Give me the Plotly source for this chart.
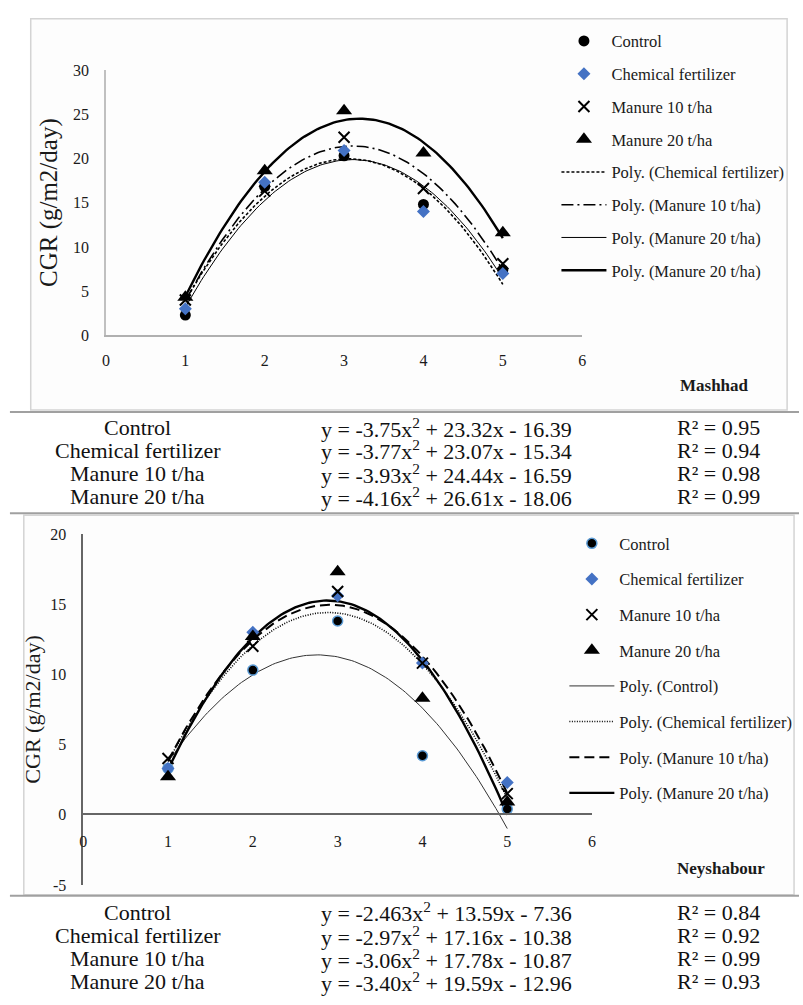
import numpy as np
import plotly.graph_objects as go

W, H = 803, 1005

# ---------------- data ----------------
days = [1, 2, 3, 4, 5]
x_ticks = [0, 1, 2, 3, 4, 5, 6]
treatments = ["Control", "Chemical fertilizer", "Manure 10 t/ha", "Manure 20 t/ha"]

# Mashhad (top panel)
mashhad_control = [2.3, 16.8, 20.3, 14.8, 7.4]
mashhad_chemical = [3.0, 17.3, 20.9, 14.0, 7.0]
mashhad_manure10 = [4.0, 16.3, 22.4, 16.6, 8.1]
mashhad_manure20 = [4.3, 18.6, 25.4, 20.6, 11.6]
mashhad_a = ["-3.75", "-3.77", "-3.93", "-4.16"]
mashhad_b = ["23.32", "23.07", "24.44", "26.61"]
mashhad_c = ["16.39", "15.34", "16.59", "18.06"]
mashhad_r2 = ["0.95", "0.94", "0.98", "0.99"]
mashhad_yticks = [0, 5, 10, 15, 20, 25, 30]
mashhad_yticktext = ["0", "5", "10", "15", "20", "25", "30"]

# Neyshabour (bottom panel)
ney_control = [3.3, 10.3, 13.8, 4.2, 0.4]
ney_chemical = [3.3, 13.0, 15.6, 10.8, 2.3]
ney_manure10 = [4.0, 12.0, 15.9, 10.8, 1.5]
ney_manure20 = [2.7, 12.7, 17.3, 8.3, 0.9]
ney_a = ["-2.463", "-2.97", "-3.06", "-3.40"]
ney_b = ["13.59", "17.16", "17.78", "19.59"]
ney_c = ["7.36", "10.38", "10.87", "12.96"]
ney_r2 = ["0.84", "0.92", "0.99", "0.93"]
ney_yticks = [-5, 0, 5, 10, 15, 20]
ney_yticktext = ["-5", "0", "5", "10", "15", "20"]

mashhad_line_labels = ["Poly. (Manure 20 t/ha)", "Poly. (Chemical fertilizer)",
                       "Poly. (Manure 10 t/ha)", "Poly. (Manure 20 t/ha)"]
ney_line_labels = ["Poly. (Control)", "Poly. (Chemical fertilizer)",
                   "Poly. (Manure 10 t/ha)", "Poly. (Manure 20 t/ha)"]

# ---------------- helpers ----------------
FONT = "Liberation Serif, Times New Roman, serif"
BLUE = "#4472C4"
TXT = "#1a1a1a"


def px(x):
    return x / W


def py(y):
    return 1 - y / H


def poly_curve(a, b, c):
    xs = np.linspace(1, 5, 121)
    return xs, float(a) * xs ** 2 + float(b) * xs - float(c)


fig = go.Figure()

marker_styles = [
    dict(symbol="circle", size=11, color="black"),
    dict(symbol="diamond", size=10, color=BLUE),
    dict(symbol="x-thin", size=11, color="black", line=dict(width=2, color="black")),
    dict(symbol="triangle-up", size=14, color="black"),
]

# ---- top panel trend lines (drawn first, behind markers)
top_line_styles = [
    dict(color="black", width=1, dash="solid"),               # control (labelled Manure 20)
    dict(color="black", width=1.6, dash="3px,2px"),           # chemical
    dict(color="black", width=1.6, dash="12px,4px,2px,4px"),  # manure 10
    dict(color="black", width=2.4, dash="solid"),             # manure 20
]
top_line_rank = [7, 5, 6, 8]
for i in range(4):
    xs, ys = poly_curve(mashhad_a[i], mashhad_b[i], mashhad_c[i])
    fig.add_trace(go.Scatter(
        x=xs, y=ys, mode="lines", line=top_line_styles[i],
        name=mashhad_line_labels[i], xaxis="x", yaxis="y",
        legend="legend", legendgroup=f"t{i}l", legendrank=top_line_rank[i],
        hoverinfo="skip"))

top_series = [mashhad_control, mashhad_chemical, mashhad_manure10, mashhad_manure20]
for i in range(4):
    fig.add_trace(go.Scatter(
        x=days, y=top_series[i], mode="markers", marker=marker_styles[i],
        name=treatments[i], xaxis="x", yaxis="y",
        legend="legend", legendgroup=f"t{i}m", legendrank=i + 1))

# ---- bottom panel trend lines
bot_line_styles = [
    dict(color="#333333", width=1, dash="solid"),
    dict(color="black", width=1.6, dash="1px,1.5px"),
    dict(color="black", width=2, dash="10px,5px"),
    dict(color="black", width=2.4, dash="solid"),
]
for i in range(4):
    xs, ys = poly_curve(ney_a[i], ney_b[i], ney_c[i])
    fig.add_trace(go.Scatter(
        x=xs, y=ys, mode="lines", line=bot_line_styles[i],
        name=ney_line_labels[i], xaxis="x2", yaxis="y2",
        legend="legend2", legendgroup=f"b{i}l", legendrank=5 + i,
        hoverinfo="skip"))

bot_marker_styles = [
    dict(symbol="circle", size=10, color="black", line=dict(width=1.5, color="#5B9BD5")),
    dict(symbol="diamond", size=10, color=BLUE),
    dict(symbol="x-thin", size=11, color="black", line=dict(width=2, color="black")),
    dict(symbol="triangle-up", size=14, color="black"),
]
bot_series = [ney_control, ney_chemical, ney_manure10, ney_manure20]
for i in range(4):
    fig.add_trace(go.Scatter(
        x=days, y=bot_series[i], mode="markers", marker=bot_marker_styles[i],
        name=treatments[i], xaxis="x2", yaxis="y2",
        legend="legend2", legendgroup=f"b{i}m", legendrank=i + 1))

tickfont = dict(family=FONT, size=16, color=TXT)

# ---------------- axes ----------------
fig.update_layout(
    xaxis=dict(domain=[px(103), px(584)], range=[0, 6], tickvals=x_ticks,
               showgrid=False, zeroline=False, showline=True, linecolor="#b0b0b0",
               linewidth=1.5, ticks="", tickfont=tickfont, ticklabelstandoff=10,
               anchor="y", fixedrange=True),
    yaxis=dict(domain=[py(333), py(63)], range=[0, 30], tickvals=mashhad_yticks,
               ticktext=mashhad_yticktext,
               showgrid=False, zeroline=False, showline=True, linecolor="#c0c0c0",
               linewidth=1.5, ticks="", tickfont=tickfont, ticklabelstandoff=12,
               anchor="x",
               title=dict(text="CGR (g/m2/day)", font=dict(family=FONT, size=25, color=TXT),
                          standoff=8)),
    xaxis2=dict(domain=[px(80), px(594)], range=[0, 6], tickvals=x_ticks,
                showgrid=False, zeroline=False, showline=True, linecolor="#666666",
                linewidth=1.5, ticks="", tickfont=tickfont, ticklabelstandoff=13,
                anchor="free", position=py(820)),
    yaxis2=dict(domain=[py(892), py(535)], range=[-5, 20], tickvals=ney_yticks,
                ticktext=ney_yticktext,
                showgrid=False, zeroline=False, showline=True, linecolor="#666666",
                linewidth=1.5, ticks="", tickfont=tickfont, ticklabelstandoff=12,
                anchor="x2",
                title=dict(text="CGR (g/m2/day)", font=dict(family=FONT, size=22, color=TXT),
                           standoff=4)),
)

legend_common = dict(
    font=dict(family=FONT, size=16.5, color=TXT),
    bgcolor="rgba(0,0,0,0)", borderwidth=0, itemwidth=45,
    xanchor="left", yanchor="top", traceorder="grouped",
    itemclick=False, itemdoubleclick=False,
)
fig.update_layout(
    legend=dict(x=px(558), y=py(16), tracegroupgap=8.3, **legend_common),
    legend2=dict(x=px(566), y=py(527), tracegroupgap=11.2, **legend_common),
)

# ---------------- frames, rules ----------------
shapes = [
    dict(type="rect", xref="paper", yref="paper", x0=px(27), x1=px(791), y0=py(409), y1=py(11),
         line=dict(color="#d4d4d4", width=1.5), fillcolor="#fdfdfd", layer="below"),
    dict(type="rect", xref="paper", yref="paper", x0=px(20), x1=px(798), y0=py(902), y1=py(516),
         line=dict(color="#d4d4d4", width=1.5), fillcolor="#fdfdfd", layer="below"),
]
for yr in [411, 514, 903]:
    shapes.append(dict(type="line", xref="paper", yref="paper", x0=px(6), x1=1,
                       y0=py(yr), y1=py(yr), line=dict(color="#a0a0a0", width=2)))

annotations = []
annotations.append(dict(text="<b>Mashhad</b>", x=px(718), y=py(384), xref="paper", yref="paper",
                        xanchor="center", yanchor="middle",
                        showarrow=False, font=dict(family=FONT, size=17, color=TXT)))
annotations.append(dict(text="<b>Neyshabour</b>", x=px(724), y=py(875), xref="paper", yref="paper",
                        xanchor="center", yanchor="middle",
                        showarrow=False, font=dict(family=FONT, size=17, color=TXT)))

table_font = dict(family=FONT, size=22, color="#111111")


def add_table(rows_y, a_list, b_list, c_list, r2_list):
    for i, yy in enumerate(rows_y):
        annotations.append(dict(text=treatments[i], x=px(135), y=py(yy), xref="paper", yref="paper",
                                xanchor="center", yanchor="middle", showarrow=False, font=table_font))
        eq = f"y = {a_list[i]}x<sup>2</sup> + {b_list[i]}x - {c_list[i]}"
        annotations.append(dict(text=eq, x=px(318), y=py(yy), xref="paper", yref="paper",
                                xanchor="left", yanchor="middle", showarrow=False, font=table_font))
        annotations.append(dict(text=f"R² = {r2_list[i]}", x=px(678), y=py(yy), xref="paper",
                                yref="paper", xanchor="left", yanchor="middle", showarrow=False,
                                font=table_font))


add_table([427, 450, 474, 497], mashhad_a, mashhad_b, mashhad_c, mashhad_r2)
add_table([920, 943.5, 967, 990.5], ney_a, ney_b, ney_c, ney_r2)

fig.update_layout(
    width=W, height=H, margin=dict(l=0, r=0, t=0, b=0),
    paper_bgcolor="white", plot_bgcolor="rgba(0,0,0,0)",
    shapes=shapes, annotations=annotations, showlegend=True,
    font=dict(family=FONT),
)

fig.write_html("out.html")
